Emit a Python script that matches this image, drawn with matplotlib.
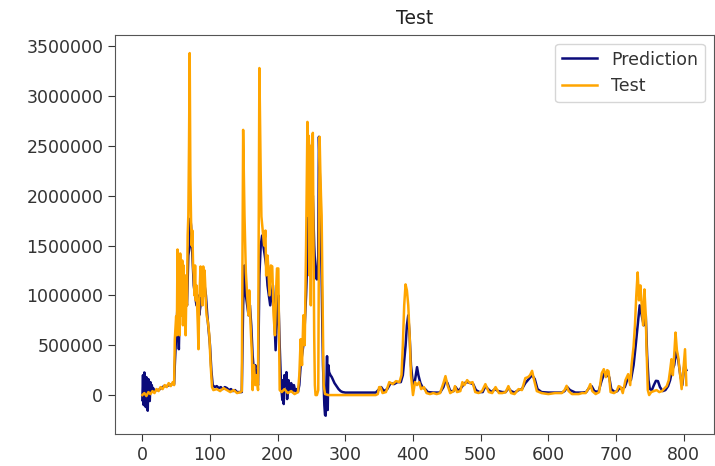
import matplotlib
matplotlib.use("Agg")
import matplotlib.pyplot as plt

# ---- data ----
test_x = [0, 3, 6, 9, 12, 15, 18, 21, 24, 27, 30, 33, 36, 39, 42, 45, 47,
          48, 50, 51, 52, 53, 54, 55, 56, 57, 58, 59, 60, 61, 62, 63, 64, 65,
          66, 67, 68, 69, 70, 71, 72, 73, 74, 75, 76, 77, 78, 79, 80, 81, 82,
          83, 84, 85, 86, 87, 88, 89, 90, 91, 92, 93, 94, 95, 97, 99, 101, 103,
          105, 110, 115, 120, 125, 130, 135, 140, 145, 147, 149, 151, 153, 155,
          157, 158, 160, 162, 163, 165, 167, 169, 171, 173, 175, 176, 178, 180,
          182, 183, 185, 186, 188, 190, 192, 194, 196, 198, 199, 201, 203, 206,
          210, 215, 220, 225, 230, 232, 234, 236, 238, 240, 242, 244, 245, 246,
          247, 248, 249, 250, 251, 252, 253, 254, 255, 256, 258, 260, 261, 262,
          263, 264, 265, 266, 267, 268, 270, 275, 300, 320, 345, 348, 350, 352,
          355, 360, 365, 370, 375, 380, 383, 385, 387, 389, 391, 393, 395, 397,
          400, 403, 406, 409, 412, 416, 420, 425, 430, 435, 440, 445, 448, 451,
          455, 460, 462, 465, 470, 473, 476, 480, 484, 488, 492, 497, 502, 507,
          512, 517, 522, 527, 532, 537, 541, 545, 550, 556, 561, 566, 570, 573,
          576, 579, 583, 590, 600, 610, 620, 624, 627, 630, 635, 645, 650, 655,
          659, 662, 665, 670, 675, 679, 682, 685, 687, 689, 692, 697, 701, 704,
          707, 710, 714, 718, 721, 723, 726, 728, 730, 732, 734, 736, 738, 740,
          742, 744, 745, 747, 749, 752, 756, 760, 764, 768, 772, 775, 778, 780,
          782, 784, 786, 788, 790, 792, 794, 797, 799, 802, 804]
test_y = [0, 20000, -10000, 30000, 10000, 40000, 20000, 60000, 40000, 80000,
          60000, 100000, 80000, 120000, 90000, 130000, 100000,
          560000, 790000, 600000, 1460000, 700000, 1400000, 600000, 1420000,
          800000, 900000, 1350000, 700000, 1300000, 800000, 1200000, 600000,
          1000000, 900000, 1600000, 1800000, 2500000, 3430000, 2200000,
          1760000, 1500000, 1650000, 1300000, 1200000, 1000000, 1300000,
          950000, 1100000, 900000, 700000, 460000, 900000, 1100000, 1290000,
          1000000, 1200000, 900000, 1290000, 1000000, 1250000, 1100000, 900000,
          800000, 730000, 600000, 300000, 80000,
          50000, 60000, 40000, 70000, 50000, 30000, 50000, 20000, 30000, 40000,
          2660000, 1800000, 1230000, 1000000, 800000, 1050000, 700000, 400000,
          50000, 300000, 100000, 200000, 50000, 3280000, 2200000, 1790000,
          1650000, 1500000, 1650000, 1200000, 1400000, 1300000, 1000000,
          1300000, 1290000, 800000, 600000, 1100000, 1270000, 1270000, 50000,
          30000, 60000, 20000, 40000, 10000, 30000, 200000, 560000, 300000,
          800000, 500000, 1500000, 2740000, 1800000, 2600000, 1200000, 2500000,
          900000, 2400000, 2560000, 2630000, 1500000, 600000, 100000, 0, 0,
          50000, 1500000, 2590000, 2260000, 2000000, 1800000, 1200000, 600000,
          100000, 10000, 0, 0, 0, 0, 10000, 80000, 80000,
          20000, 30000, 130000, 110000, 140000, 130000, 200000, 500000, 900000,
          1110000, 1050000, 900000, 600000, 200000,
          0, 130000, 100000, 130000, 60000, 80000, 20000, 10000, 20000, 10000,
          20000, 120000, 190000, 100000, 20000, 40000, 90000, 30000, 40000,
          130000, 100000, 150000, 120000, 130000, 30000, 20000, 40000, 110000,
          30000, 20000, 80000, 20000, 20000, 30000, 90000, 20000, 10000, 60000,
          50000, 170000, 180000, 200000, 243000, 150000, 40000, 20000, 10000,
          20000, 20000, 50000, 93000, 40000, 10000, 10000, 20000, 20000, 60000,
          110000, 40000, 10000, 30000, 220000, 260000, 180000, 250000, 240000,
          30000, 20000, 40000, 90000, 80000, 20000, 150000, 210000, 100000,
          300000, 490000, 700000, 1000000, 1230000, 950000, 1100000, 900000,
          700000, 1060000, 800000, 500000, 50000, 0, 30000, 40000, 50000, 30000,
          40000, 70000, 90000, 150000, 250000, 360000, 200000, 400000, 627000,
          450000, 380000, 250000, 60000, 200000, 460000, 100000]

pred_x = [0, 1, 2, 3, 4, 5, 6, 7, 8, 9, 10, 11, 12, 13, 14, 15, 16, 18, 20,
          24, 28, 32, 36, 40, 44, 47, 48, 50, 52, 54, 56, 58, 60, 62, 64, 66,
          68, 70, 71, 72, 74, 76, 78, 80, 82, 84, 86, 88, 90, 92, 94, 96, 98,
          100, 102, 104, 107, 110, 113, 116, 119, 122, 125, 128, 131, 134, 137,
          140, 144, 147, 149, 151, 153, 155, 157, 159, 161, 163, 165, 167, 169,
          171, 173, 175, 177, 179, 181, 183, 185, 187, 189, 191, 193, 195, 197,
          199, 201, 203, 205, 207, 208, 209, 210, 212, 213, 214, 216, 218, 220,
          222, 224, 226, 228, 230, 232, 234, 236, 238, 240, 242, 244, 246, 248,
          250, 252, 254, 256, 258, 260, 261, 262, 263, 264, 265, 266, 267, 268,
          269, 270, 271, 272, 273, 274, 275, 276, 278, 280, 282, 284, 286, 288,
          290, 293, 296, 300, 320, 345, 350, 353, 357, 362, 367, 372, 377, 382,
          385, 387, 389, 391, 393, 395, 397, 400, 403, 406, 408, 411, 414, 418,
          422, 430, 440, 445, 448, 451, 455, 460, 463, 467, 472, 476, 480, 485,
          489, 493, 498, 503, 507, 511, 516, 521, 526, 532, 537, 541, 545, 550,
          556, 561, 566, 571, 576, 580, 584, 590, 600, 610, 620, 624, 628, 632,
          640, 650, 656, 660, 664, 668, 674, 679, 683, 687, 690, 693, 698, 702,
          705, 709, 713, 718, 722, 726, 729, 732, 735, 738, 741, 744, 746, 748,
          750, 753, 756, 759, 762, 765, 769, 773, 777, 780, 783, 786, 789, 792,
          795, 798, 801, 804]
pred_y = [-50000, 200000, -100000, 227000, 150000, -120000, 180000, 100000,
          -157000, 160000, 120000, -60000, 130000, 80000, 100000, 50000, 70000,
          40000, 50000, 50000, 70000, 90000, 90000, 100000, 110000, 110000,
          300000, 600000, 900000, 460000, 1100000, 800000, 850000, 1200000,
          1000000, 900000, 1400000, 1500000, 1770000, 1700000, 1400000,
          1100000, 1000000, 900000, 1000000, 800000, 900000, 1100000, 1050000,
          1100000, 1000000, 800000, 650000, 500000, 250000, 100000, 80000,
          90000, 70000, 80000, 60000, 80000, 70000, 50000, 60000, 40000, 50000,
          30000, 30000, 30000, 900000, 1300000, 1000000, 900000, 800000, 900000,
          700000, 400000, 230000, 300000, 150000, 100000, 1200000, 1500000,
          1600000, 1490000, 1400000, 1300000, 1100000, 1000000, 900000, 1000000,
          1100000, 800000, 450000, 800000, 1000000, 500000, 100000, -50000,
          150000, -90000, 200000, 100000, 230000, -40000, 150000, 50000, 120000,
          30000, 100000, 40000, 60000, 30000, 100000, 300000, 400000, 500000,
          700000, 1000000, 1400000, 2000000, 1800000, 1760000, 2000000, 1500000,
          1200000, 1160000, 1400000, 2590000, 2300000, 2000000, 1500000,
          1200000, 700000, 300000, 100000, -100000, -200000, -207000, 100000,
          390000, -150000, 300000, 230000, 200000, 180000, 150000, 120000,
          100000, 80000, 60000, 40000, 30000, 25000, 25000, 25000, 60000, 80000,
          40000, 60000, 120000, 110000, 130000, 130000, 200000, 350000, 490000,
          700000, 800000, 600000, 300000, 100000, 150000, 280000, 200000,
          120000, 80000, 60000, 30000, 25000, 25000, 80000, 150000, 120000,
          40000, 40000, 80000, 40000, 80000, 120000, 130000, 120000, 110000,
          50000, 30000, 30000, 90000, 60000, 30000, 60000, 40000, 30000, 30000,
          70000, 40000, 25000, 50000, 60000, 120000, 160000, 200000, 160000,
          60000, 30000, 25000, 25000, 25000, 40000, 80000, 50000, 25000, 25000,
          30000, 70000, 90000, 40000, 30000, 150000, 220000, 200000, 180000,
          60000, 30000, 40000, 70000, 60000, 80000, 180000, 150000, 300000,
          490000, 700000, 900000, 800000, 700000, 800000, 400000, 150000, 60000,
          50000, 100000, 143000, 140000, 80000, 40000, 50000, 90000, 150000,
          250000, 300000, 450000, 350000, 200000, 100000, 300000, 250000]

series_labels = ["Prediction", "Test"]
chart_title = "Test"
y_ticks = [0, 500000, 1000000, 1500000, 2000000, 2500000, 3000000, 3500000]
x_ticks = [0, 100, 200, 300, 400, 500, 600, 700, 800]

# ---- drawing ----
plt.rcParams['font.family'] = ['DejaVu Sans']
fig = plt.figure(figsize=(7.15, 4.66), dpi=100)
ax = fig.add_axes([0.161, 0.069, 0.837, 0.856])

ax.plot(pred_x, pred_y, color='#0b0b7a', lw=1.8, label=series_labels[0])
ax.plot(test_x, test_y, color='#ffa500', lw=1.8, label=series_labels[1])

ax.set_xticks(x_ticks)
ax.set_yticks(y_ticks)
ax.ticklabel_format(style='plain', axis='y', useOffset=False)
ax.tick_params(labelsize=12.5, colors='#333333', length=5)
for s in ax.spines.values():
    s.set_color('#555555')
ax.set_title(chart_title, fontsize=13.5, color='#222222', pad=8)
leg = ax.legend(loc='upper right', fontsize=12.5, handlelength=2.0)
for t in leg.get_texts():
    t.set_color('#333333')

fig.savefig('out.png', dpi=100)
